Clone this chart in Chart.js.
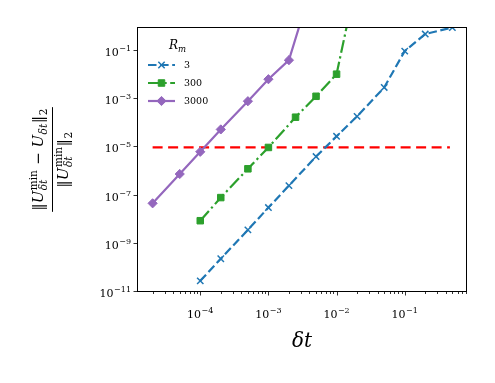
<!DOCTYPE html>
<html>
<head>
<meta charset="utf-8">
<script src="https://cdn.jsdelivr.net/npm/chart.js@4.4.1/dist/chart.umd.min.js"></script>
<style>
  html, body { margin: 0; padding: 0; background: #fff; }
  canvas { display: block; }
</style>
</head>
<body>
<canvas id="errChart" width="495" height="383"></canvas>
<script>
// time steps and relative errors
const dt3 = [1e-4, 2e-4, 5e-4, 1e-3, 2e-3, 5e-3, 1e-2, 2e-2, 5e-2, 1e-1, 2e-1, 5e-1];
const err3 = [2.9e-11, 2.4e-10, 3.8e-9, 3.2e-8, 2.6e-7, 4.2e-6, 2.9e-5, 1.95e-4, 3.1e-3, 1.0e-1, 5.1e-1, 9.5e-1];
const dt300 = [1e-4, 2e-4, 5e-4, 1e-3, 2.5e-3, 5e-3, 1e-2, 2e-2];
const err300 = [9.1e-9, 8.3e-8, 1.3e-6, 1.0e-5, 1.8e-4, 1.33e-3, 1.1e-2, 1.1e2];
const dt3000 = [2e-5, 5e-5, 1e-4, 2e-4, 5e-4, 1e-3, 2e-3, 5e-3];
const err3000 = [4.8e-8, 7.9e-7, 6.6e-6, 5.6e-5, 8.3e-4, 6.8e-3, 4.2e-2, 2e2];
const dtTol = [2e-5, 4.6e-1];
const tol = [1e-5, 1e-5];

const seriesLabels = ['3', '300', '3000'];
const legendTitle = 'R';
const legendTitleSub = 'm';
const xTickExps = [-4, -3, -2, -1];
const yTickExps = [-11, -9, -7, -5, -3, -1];
const xTitle = 'δt';

const SERIF = '"DejaVu Serif", serif';

const pts = (xs, ys) => xs.map((x, i) => ({ x: x, y: ys[i] }));

// draws 10^exp with a raised exponent, align: 'center' or 'right'
function drawPow10(ctx, exp, x, y, align) {
    const base = '10';
    const sup = '\u2212' + Math.abs(exp);
    ctx.font = '11px ' + SERIF;
    const wb = ctx.measureText(base).width;
    ctx.font = '8px ' + SERIF;
    const ws = ctx.measureText(sup).width;
    const w = wb + ws + 0.5;
    let x0 = align === 'center' ? x - w / 2 : x - w;
    ctx.textAlign = 'left';
    ctx.textBaseline = 'alphabetic';
    ctx.font = '11px ' + SERIF;
    ctx.fillText(base, x0, y);
    ctx.font = '8px ' + SERIF;
    ctx.fillText(sup, x0 + wb + 0.5, y - 5);
}

// tiny mathtext-ish layout: text runs and sub/sup stacks
function measureRuns(ctx, runs) {
    let w = 0;
    runs.forEach(r => {
        if (r.t !== undefined) {
            ctx.font = (r.it ? 'italic ' : '') + r.s + 'px ' + SERIF;
            r.w = ctx.measureText(r.t).width;
        } else {
            let a = 0, b = 0;
            if (r.sup) { ctx.font = r.s + 'px ' + SERIF; a = ctx.measureText(r.sup).width; }
            if (r.sub) { ctx.font = (r.subIt ? 'italic ' : '') + r.s + 'px ' + SERIF; b = ctx.measureText(r.sub).width; }
            r.w = Math.max(a, b) + 1;
        }
        w += r.w;
    });
    return w;
}

function drawRuns(ctx, runs, x, y) {
    ctx.textAlign = 'left';
    ctx.textBaseline = 'alphabetic';
    runs.forEach(r => {
        if (r.t !== undefined) {
            ctx.font = (r.it ? 'italic ' : '') + r.s + 'px ' + SERIF;
            ctx.fillText(r.t, x, y);
        } else {
            if (r.sup) { ctx.font = r.s + 'px ' + SERIF; ctx.fillText(r.sup, x + 0.5, y - 6); }
            if (r.sub) { ctx.font = (r.subIt ? 'italic ' : '') + r.s + 'px ' + SERIF; ctx.fillText(r.sub, x + 0.5, y + 4); }
        }
        x += r.w;
    });
}

const axesPlugin = {
    id: 'axesPlugin',
    afterDatasetsDraw(chart) {
        const ctx = chart.ctx;
        const area = chart.chartArea;
        const xs = chart.scales.x, ys = chart.scales.y;
        ctx.save();
        ctx.strokeStyle = '#000';
        ctx.fillStyle = '#000';

        // frame
        ctx.lineWidth = 1;
        ctx.strokeRect(area.left + 0.5, area.top + 0.5, area.right - area.left - 1, area.bottom - area.top - 1);

        // x ticks (major + log minor)
        ctx.lineWidth = 0.8;
        ctx.beginPath();
        for (let d = -6; d <= 0; d++) {
            for (let m = 1; m <= 9; m++) {
                const v = m * Math.pow(10, d);
                if (v < xs.min || v > xs.max) continue;
                const px = Math.round(xs.getPixelForValue(v)) + 0.5;
                const len = m === 1 ? 3.5 : 2;
                ctx.moveTo(px, area.bottom);
                ctx.lineTo(px, area.bottom + len);
            }
        }
        yTickExps.forEach(e => {
            const py = Math.round(ys.getPixelForValue(Math.pow(10, e))) - 0.5;
            ctx.moveTo(area.left, py);
            ctx.lineTo(area.left - 3.5, py);
        });
        ctx.stroke();

        // tick labels
        xTickExps.forEach(e => {
            const px = xs.getPixelForValue(Math.pow(10, e));
            drawPow10(ctx, e, px, area.bottom + 26, 'center');
        });
        yTickExps.forEach(e => {
            const py = ys.getPixelForValue(Math.pow(10, e));
            drawPow10(ctx, e, area.left - 6, py + 5, 'right');
        });

        // x title
        ctx.font = 'italic 20px ' + SERIF;
        ctx.textAlign = 'center';
        ctx.textBaseline = 'alphabetic';
        ctx.fillText(xTitle, (area.left + area.right) / 2, area.bottom + 55);

        // y title: fraction, rotated
        const num = [
            { t: '\u2016', s: 15 }, { t: 'U', s: 15, it: true },
            { sup: 'min', sub: 'δt', subIt: true, s: 10.5 },
            { t: ' \u2212 ', s: 15 }, { t: 'U', s: 15, it: true },
            { sub: 'δt', subIt: true, s: 10.5 },
            { t: '\u2016', s: 15 }, { sub: '2', s: 10.5 }
        ];
        const den = [
            { t: '\u2016', s: 15 }, { t: 'U', s: 15, it: true },
            { sup: 'min', sub: 'δt', subIt: true, s: 10.5 },
            { t: '\u2016', s: 15 }, { sub: '2', s: 10.5 }
        ];
        const wn = measureRuns(ctx, num);
        const wd = measureRuns(ctx, den);
        const wbar = Math.max(wn, wd) + 2;
        ctx.save();
        ctx.translate(52, (area.top + area.bottom) / 2);
        ctx.rotate(-Math.PI / 2);
        drawRuns(ctx, num, -wn / 2, -9);
        drawRuns(ctx, den, -wd / 2, 16);
        ctx.lineWidth = 1;
        ctx.beginPath();
        ctx.moveTo(-wbar / 2, 0.5);
        ctx.lineTo(wbar / 2, 0.5);
        ctx.stroke();
        ctx.restore();

        // legend
        const lx = area.left + 11, lw = 27;
        ctx.font = 'italic 12px ' + SERIF;
        ctx.textAlign = 'left';
        const tw = ctx.measureText(legendTitle).width;
        ctx.fillText(legendTitle, lx + 21, area.top + 22);
        ctx.font = 'italic 8.5px ' + SERIF;
        ctx.fillText(legendTitleSub, lx + 21 + tw, area.top + 25);
        chart.data.datasets.forEach((ds, i) => {
            if (!ds.inLegend) return;
            const y = area.top + 38 + i * 18;
            ctx.save();
            ctx.strokeStyle = ds.borderColor;
            ctx.lineWidth = ds.borderWidth;
            ctx.setLineDash(ds.legendDash || []);
            ctx.beginPath();
            ctx.moveTo(lx, y);
            ctx.lineTo(lx + lw, y);
            ctx.stroke();
            ctx.setLineDash([]);
            ctx.fillStyle = ds.pointBackgroundColor;
            ctx.strokeStyle = ds.pointBorderColor;
            ctx.lineWidth = ds.pointBorderWidth;
            Chart.helpers.drawPoint(ctx, { pointStyle: ds.pointStyle, radius: ds.pointRadius, borderWidth: ds.pointBorderWidth }, lx + lw / 2, y);
            ctx.restore();
            ctx.fillStyle = '#000';
            ctx.font = '9.5px ' + SERIF;
            ctx.textBaseline = 'middle';
            ctx.fillText(ds.label, lx + lw + 9, y + 1);
            ctx.textBaseline = 'alphabetic';
        });
        ctx.restore();
    }
};

const ctx = document.getElementById('errChart').getContext('2d');
const errChart = new Chart(ctx, {
    type: 'line',
    data: {
        datasets: [{
            label: seriesLabels[0],
            inLegend: true,
            data: pts(dt3, err3),
            borderColor: '#1f77b4',
            borderWidth: 2.2,
            borderDash: [8.5, 3.6],
            legendDash: [8.5, 3.6],
            pointStyle: 'crossRot',
            pointRadius: 4.5,
            pointBorderWidth: 1.5,
            pointBorderColor: '#1f77b4',
            pointBackgroundColor: '#1f77b4'
        }, {
            label: seriesLabels[1],
            inLegend: true,
            data: pts(dt300, err300),
            borderColor: '#2ca02c',
            borderWidth: 2.2,
            borderDash: [13, 3.5, 2.2, 3.5],
            legendDash: [13, 3.5, 2.2, 3.5],
            pointStyle: 'rect',
            pointRadius: 4.6,
            pointBorderWidth: 1,
            pointBorderColor: '#2ca02c',
            pointBackgroundColor: '#2ca02c'
        }, {
            label: seriesLabels[2],
            inLegend: true,
            data: pts(dt3000, err3000),
            borderColor: '#9467bd',
            borderWidth: 2.2,
            pointStyle: 'rectRot',
            pointRadius: 4.6,
            pointBorderWidth: 1,
            pointBorderColor: '#9467bd',
            pointBackgroundColor: '#9467bd'
        }, {
            label: 'tol',
            inLegend: false,
            data: pts(dtTol, tol),
            borderColor: '#ff0000',
            borderWidth: 2.2,
            borderDash: [10, 5.5],
            pointRadius: 0
        }]
    },
    options: {
        responsive: false,
        animation: false,
        devicePixelRatio: 1,
        layout: { padding: { left: 137, top: 27, right: 28, bottom: 91 } },
        scales: {
            x: { type: 'logarithmic', min: 1.18e-5, max: 0.82, display: false },
            y: { type: 'logarithmic', min: 1e-11, max: 1, display: false }
        },
        plugins: {
            legend: { display: false },
            tooltip: { enabled: false }
        },
        elements: { line: { tension: 0 } }
    },
    plugins: [axesPlugin]
});
</script>
</body>
</html>
